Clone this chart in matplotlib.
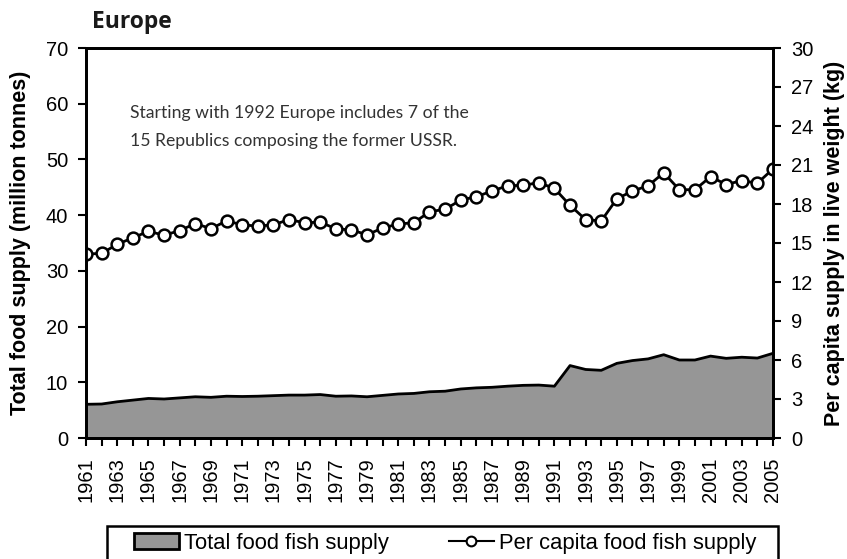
import matplotlib
matplotlib.use("Agg")
import matplotlib.pyplot as plt
from matplotlib.patches import Rectangle
import numpy as np

years = list(range(1961, 2006))

# million tonnes (left axis)
total_supply = [6.05, 6.1, 6.5, 6.8, 7.1, 7.0, 7.2, 7.4, 7.3, 7.5,
                7.45, 7.5, 7.6, 7.7, 7.7, 7.8, 7.5, 7.55, 7.4, 7.65,
                7.9, 8.0, 8.3, 8.4, 8.8, 9.0, 9.1, 9.3, 9.45, 9.5,
                9.3, 13.0, 12.3, 12.15, 13.4, 13.9, 14.2, 14.95, 14.0, 14.0,
                14.7, 14.3, 14.5, 14.35, 15.2]

# kg per capita (right axis)
per_capita = [14.15, 14.2, 14.9, 15.4, 15.9, 15.6, 15.95, 16.5, 16.1, 16.7,
              16.4, 16.3, 16.4, 16.8, 16.56, 16.6, 16.1, 16.0, 15.64, 16.15,
              16.46, 16.56, 17.4, 17.6, 18.3, 18.56, 19.0, 19.4, 19.44, 19.64,
              19.2, 17.9, 16.8, 16.7, 18.4, 19.0, 19.4, 20.4, 19.1, 19.1,
              20.1, 19.5, 19.8, 19.6, 20.7]

xlabels = [str(y) if y % 2 == 1 else "" for y in years]
note_lines = ['Starting with 1992 Europe includes 7 of the',
              '15 Republics composing the former USSR.']

plt.rcParams['font.family'] = ['Liberation Sans', 'DejaVu Sans']

fig = plt.figure(figsize=(8.47, 5.59), dpi=100)
ax = fig.add_axes([86 / 847, 1 - 438 / 559, (773 - 86) / 847, (438 - 48) / 559])
ax2 = ax.twinx()

ax.fill_between(years, total_supply, 0, color='#969696', linewidth=0)
ax.plot(years, total_supply, color='black', linewidth=2)
ax2.plot(years, per_capita, color='black', linewidth=2, marker='o', markersize=8.5,
         markerfacecolor='white', markeredgecolor='black', markeredgewidth=1.8)

ax.set_xlim(1961, 2005)
ax.set_ylim(0, 70)
ax2.set_ylim(0, 30)
ax.set_yticks(np.arange(0, 71, 10))
ax2.set_yticks(np.arange(0, 31, 3))
ax.set_xticks(years)
ax.set_xticklabels(xlabels, rotation=90)

for a in (ax, ax2):
    for s in a.spines.values():
        s.set_linewidth(2)
    a.tick_params(direction='out', length=5.8, width=1.5, labelsize=14.5, pad=7)
ax.tick_params(axis='x', pad=8)

ax.set_ylabel('Total food supply (million tonnes)', fontsize=15.5, fontweight='bold', labelpad=11)
ax2.set_ylabel('Per capita supply in live weight (kg)', fontsize=15.5, fontweight='bold', labelpad=8)

fig.text(92 / 847, 1 - 22 / 559, 'Europe', fontsize=16.5, fontweight='bold',
         family=['Open Sans', 'DejaVu Sans'], color='#1a1a1a', va='center', ha='left')
for i, line in enumerate(note_lines):
    ax.text(0.064, 0.8205 - i * 0.0718, line, transform=ax.transAxes, fontsize=12.7,
            family=['Lato', 'DejaVu Sans'], color='#333333', va='baseline', ha='left')

# legend box, bottom edge runs off the figure
fig.patches.append(Rectangle((107 / 847, -0.05), (778 - 107) / 847, 0.05 + 1 - 526 / 559,
                             transform=fig.transFigure, facecolor='none', edgecolor='black',
                             linewidth=1.8))
h1 = Rectangle((0, 0), 1, 1, facecolor='#969696', edgecolor='black', linewidth=2)
h2, = ax2.plot([], [], color='black', linewidth=1.5, marker='o', markersize=7,
               markerfacecolor='white', markeredgecolor='black', markeredgewidth=1.5)
fig.legend([h1, h2], ['Total food fish supply', 'Per capita food fish supply'],
           loc='center left', bbox_to_anchor=(123 / 847, 1 - 543 / 559), ncol=2,
           frameon=False, fontsize=15.8, borderpad=0, handlelength=2.05,
           handletextpad=0.25, columnspacing=2.7)

fig.savefig('out.png', dpi=100)
